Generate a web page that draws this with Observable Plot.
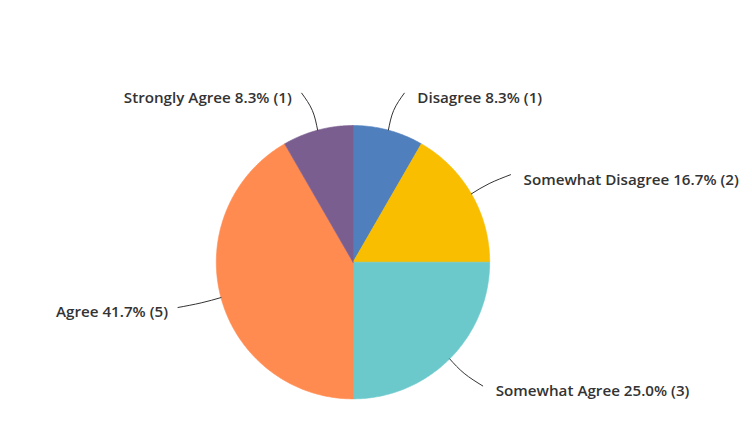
<!DOCTYPE html>
<html>
<head>
<meta charset="utf-8">
<script src="https://cdn.jsdelivr.net/npm/d3@7"></script>
<script src="https://cdn.jsdelivr.net/npm/@observablehq/plot@0.6"></script>
<style>
  html, body { margin: 0; padding: 0; background: #ffffff; }
  #chart { width: 752px; height: 431px; }
</style>
</head>
<body>
<div id="chart"></div>
<script>
// ---- data ----
const categories = ["Disagree", "Somewhat Disagree", "Somewhat Agree", "Agree", "Strongly Agree"];
const counts = [1, 2, 3, 5, 1];
const percents = ["8.3%", "16.7%", "25.0%", "41.7%", "8.3%"];
const colors = ["#4f7fbd", "#f9be00", "#6bc9cc", "#ff8b50", "#7b5e90"];

// ---- layout (pixels) ----
const W = 752, H = 431;
const cx = 352.5, cy = 261.7, R = 136.7;

const pie = d3.pie().sort(null).value(d => d.count)(
  categories.map((c, i) => ({name: c, count: counts[i], pct: percents[i]}))
);

// slice polygons in radius units (y downward)
const slicePts = [];
for (const a of pie) {
  const n = Math.max(2, Math.ceil((a.endAngle - a.startAngle) / (Math.PI / 360)));
  slicePts.push({name: a.data.name, x: 0, y: 0});
  for (let k = 0; k <= n; k++) {
    const t = a.startAngle + (a.endAngle - a.startAngle) * k / n;
    slicePts.push({name: a.data.name, x: Math.sin(t), y: -Math.cos(t)});
  }
  slicePts.push({name: a.data.name, x: 0, y: 0});
}

// leader lines and label anchors
const leaderPts = [];
const labels = [];
for (const a of pie) {
  const m = (a.startAngle + a.endAngle) / 2;
  const sx = Math.sin(m), sy = -Math.cos(m);
  const side = sx >= 0 ? 1 : -1;
  const ex = 1.28 * sx + side * 6 / R, ey = 1.28 * sy;
  leaderPts.push({name: a.data.name, x: sx, y: sy});
  leaderPts.push({name: a.data.name, x: 1.15 * sx, y: 1.15 * sy});
  leaderPts.push({name: a.data.name, x: ex, y: ey});
  labels.push({name: a.data.name, side, x: ex, y: ey,
    text: `${a.data.name} ${a.data.pct} (${a.data.count})`});
}

const chart = Plot.plot({
  width: W,
  height: H,
  margin: 0,
  x: {domain: [-cx / R, (W - cx) / R], range: [0, W], axis: null},
  y: {domain: [-cy / R, (H - cy) / R], range: [0, H], axis: null},
  color: {domain: categories, range: colors},
  style: {background: "#ffffff", fontFamily: "'Open Sans', Roboto, sans-serif", fontSize: "14px", color: "#333333"},
  marks: [
    Plot.line(slicePts, {x: "x", y: "y", z: "name", fill: "name", stroke: "name", strokeWidth: 0.6, curve: "linear"}),
    Plot.line(leaderPts, {x: "x", y: "y", z: "name", stroke: "#333333", strokeWidth: 1, curve: "natural"}),
    Plot.text(labels.filter(d => d.side > 0), {x: "x", y: "y", text: "text", textAnchor: "start", dx: 13, dy: 5, fill: "#333333", fontWeight: 600, fontSize: 15.2}),
    Plot.text(labels.filter(d => d.side < 0), {x: "x", y: "y", text: "text", textAnchor: "end", dx: -10, dy: 5, fill: "#333333", fontWeight: 600, fontSize: 15.2})
  ]
});
document.getElementById("chart").appendChild(chart);
</script>
</body>
</html>
